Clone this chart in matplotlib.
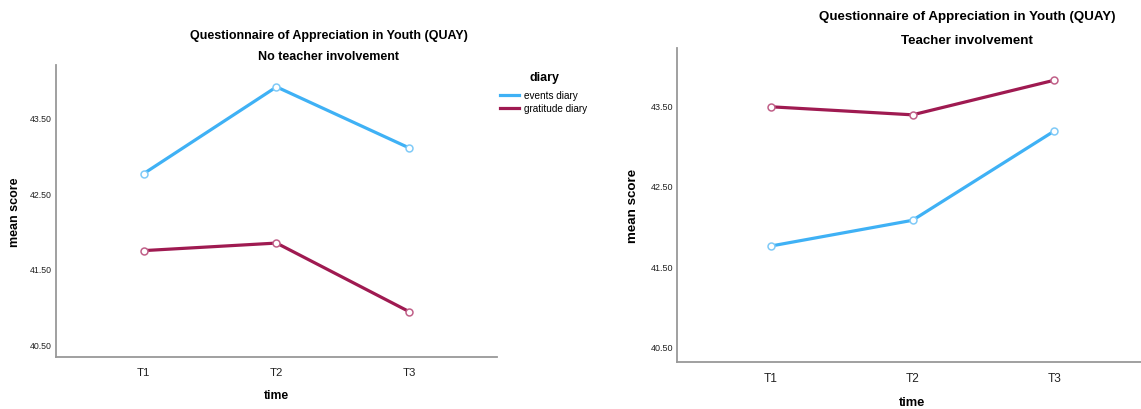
import matplotlib.pyplot as plt

plt.rcParams['font.family'] = ['Liberation Sans', 'DejaVu Sans']

times = ['T1', 'T2', 'T3']
series = ['events diary', 'gratitude diary']
colors = ['#3fb1f5', '#9f1a51']
edge_colors = ['#7fcaf7', '#c06088']

# mean scores, no teacher involvement
no_teacher = {
    'events diary': [42.76, 43.91, 43.10],
    'gratitude diary': [41.74, 41.84, 40.93],
}
# mean scores, teacher involvement
teacher = {
    'events diary': [41.75, 42.07, 43.18],
    'gratitude diary': [43.48, 43.38, 43.81],
}
yticks = [40.5, 41.5, 42.5, 43.5]

W, H = 1141, 410
fig = plt.figure(figsize=(W / 100, H / 100), dpi=100)


def draw_panel(ax, data, ylim, tick_fs, xtick_fs, label_fs, ylab_x, xlab_y):
    x = [1, 2, 3]
    for name, c, ec in zip(series, colors, edge_colors):
        ax.plot(x, data[name], color=c, lw=2.3, label=name, zorder=3)
        ax.plot(x, data[name], ls='none', marker='o', ms=5, mfc='white',
                mec=ec, mew=1.1, zorder=4)
    ax.set_xlim(0.34, 3.66)
    ax.set_ylim(*ylim)
    ax.set_xticks(x)
    ax.set_xticklabels(times, fontsize=xtick_fs, color='#222222')
    ax.set_yticks(yticks)
    ax.set_yticklabels(['%.2f' % v for v in yticks], fontsize=tick_fs, color='#222222')
    ax.tick_params(axis='y', length=0, pad=3)
    ax.tick_params(axis='x', length=0, pad=7)
    for s in ['top', 'right']:
        ax.spines[s].set_visible(False)
    for s in ['left', 'bottom']:
        ax.spines[s].set_color('#999999')
        ax.spines[s].set_linewidth(1.3)
    ax.set_xlabel('time', fontsize=label_fs - 0.3, fontweight='bold')
    ax.set_ylabel('mean score', fontsize=label_fs, fontweight='bold')
    # label positions in figure pixels
    pos = ax.get_position()
    ax.yaxis.set_label_coords(ylab_x / W, (pos.y0 + pos.y1) / 2, transform=fig.transFigure)
    ax.xaxis.set_label_coords((pos.x0 + pos.x1) / 2, 1 - xlab_y / H, transform=fig.transFigure)
    ax.xaxis.label.set_va('center')
    ax.yaxis.label.set_va('center')


ax1 = fig.add_axes([56 / W, 1 - 358 / H, 441 / W, 292 / H])
draw_panel(ax1, no_teacher, (40.33, 44.20), 6.3, 8.2, 9.0, 15, 396)
ax1.xaxis.set_label_coords(276 / W, 1 - 396 / H, transform=fig.transFigure)

ax2 = fig.add_axes([677 / W, 1 - 363 / H, 471 / W, 314 / H])
draw_panel(ax2, teacher, (40.31, 44.21), 6.5, 8.6, 9.6, 633, 403)
ax2.xaxis.set_label_coords(912 / W, 1 - 403 / H, transform=fig.transFigure)

fig.text(329 / W, 1 - 36 / H, 'Questionnaire of Appreciation in Youth (QUAY)',
         ha='center', va='center', fontsize=9, fontweight='bold')
fig.text(329 / W, 1 - 57 / H, 'No teacher involvement',
         ha='center', va='center', fontsize=9, fontweight='bold')
fig.text(967 / W, 1 - 17 / H, 'Questionnaire of Appreciation in Youth (QUAY)',
         ha='center', va='center', fontsize=9.6, fontweight='bold')
fig.text(967 / W, 1 - 41 / H, 'Teacher involvement',
         ha='center', va='center', fontsize=9.6, fontweight='bold')

# legend
fig.text(545 / W, 1 - 78 / H, 'diary', ha='center', va='center',
         fontsize=9, fontweight='bold')
handles, labels = ax1.get_legend_handles_labels()
leg = fig.legend(handles, labels, loc='upper left',
                 bbox_to_anchor=(500 / W, 1 - 91 / H),
                 frameon=False, fontsize=7.2,
                 handlelength=1.9, handletextpad=0.5, labelspacing=0.3,
                 borderpad=0, borderaxespad=0)

fig.savefig('out.png', dpi=100)
